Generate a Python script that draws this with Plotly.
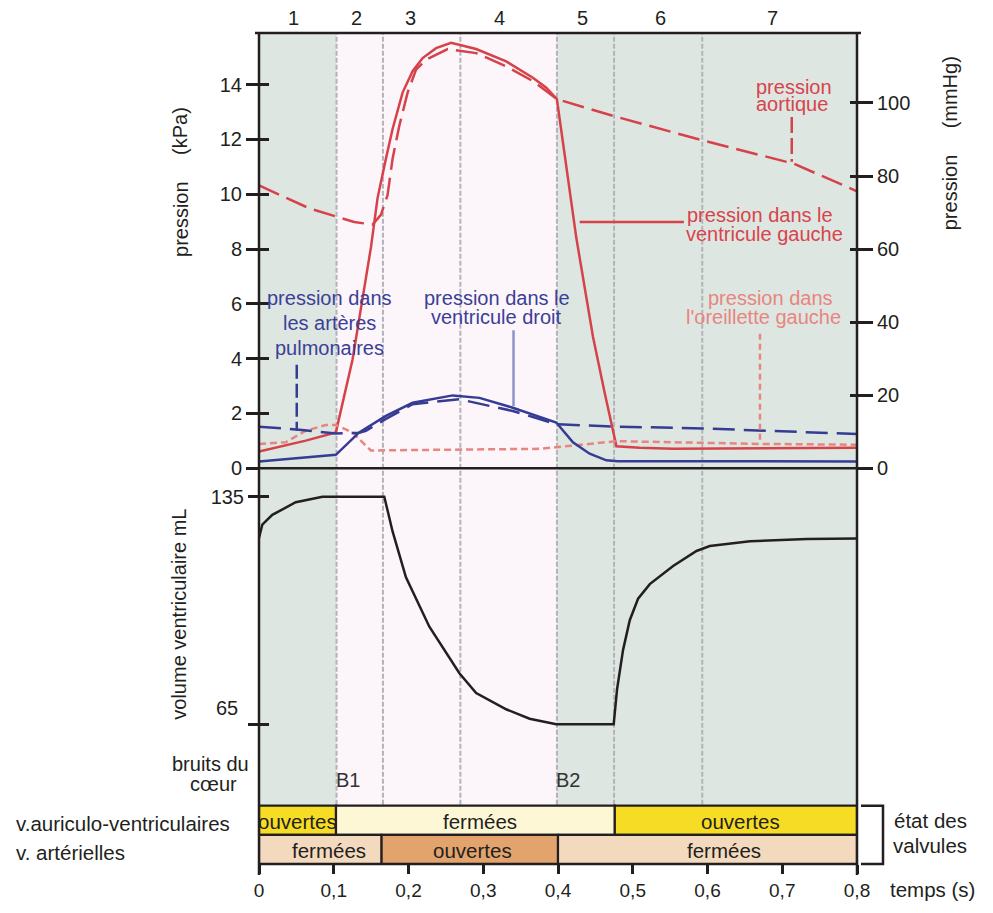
import plotly.graph_objects as go

# ---------------- data ----------------
# time in s, pressures in kPa
t_lv = [0.000, 0.0626, 0.1028, 0.1251, 0.1497, 0.1586, 0.1698, 0.1787, 0.1921, 0.2055, 0.2189,
        0.2369, 0.2570, 0.2905, 0.3307, 0.3664, 0.3843, 0.3985, 0.4245, 0.4468, 0.4625, 0.4782,
        0.5094, 0.554, 0.8]
p_lv = [0.61, 1.01, 1.31, 3.96, 8.05, 9.86, 11.30, 12.38, 13.71, 14.49, 14.97,
        15.33, 15.53, 15.30, 14.85, 14.25, 13.89, 13.47, 8.41, 4.80, 2.75, 0.80,
        0.75, 0.71, 0.75]

t_ao = [0.0, 0.067, 0.1028, 0.1273, 0.1519, 0.1631, 0.172, 0.1787, 0.1877, 0.1988, 0.2101,
        0.2235, 0.2524, 0.2905, 0.3307, 0.3664, 0.3985, 0.4736, 0.5942, 0.7149, 0.8]
p_ao = [10.32, 9.49, 9.19, 8.99, 8.89, 9.25, 9.97, 11.30, 12.50, 13.71, 14.55,
        14.91, 15.30, 15.15, 14.67, 14.13, 13.47, 12.86, 11.96, 11.12, 10.11]

t_rv = [0.0, 0.1028, 0.134, 0.1698, 0.2055, 0.2591, 0.2949, 0.3395, 0.3977, 0.42, 0.4424,
        0.4647, 0.48, 0.8]
p_rv = [0.25, 0.49, 1.31, 1.91, 2.39, 2.66, 2.57, 2.21, 1.67, 0.95, 0.53,
        0.29, 0.26, 0.25]

t_pa = [0.0, 0.0536, 0.1028, 0.134, 0.143, 0.1698, 0.2055, 0.2681, 0.3395, 0.3977, 0.4647,
        0.5988, 0.8]
p_pa = [1.52, 1.41, 1.27, 1.30, 1.37, 1.80, 2.34, 2.52, 2.09, 1.61, 1.53,
        1.45, 1.25]

t_la = [0.0, 0.0358, 0.0626, 0.0894, 0.1028, 0.125, 0.1497, 0.2681, 0.3395, 0.3753, 0.42,
        0.4782, 0.6702, 0.8]
p_la = [0.89, 0.95, 1.37, 1.58, 1.58, 1.31, 0.65, 0.68, 0.71, 0.71, 0.83,
        0.99, 0.89, 0.86]

# ventricular volume (mL)
t_vol = [0, 0.0044, 0.0178, 0.0492, 0.0849, 0.1028, 0.1676, 0.1787, 0.1966, 0.2279, 0.2681,
         0.2905, 0.3307, 0.362, 0.3977, 0.4745, 0.479, 0.487, 0.496, 0.5071, 0.5228,
         0.554, 0.5853, 0.603, 0.6568, 0.733, 0.8]
vol = [122.3, 126.4, 129.4, 133.3, 135.0, 135, 135, 124.3, 110.2, 95.0, 80.7,
       74.6, 69.6, 66.7, 65, 65, 75.7, 87.8, 97.0, 103.6, 108.1,
       113.7, 118.3, 119.8, 121.3, 122.0, 122.1]

# cardiac cycle phases
phase_edges = [0, 0.1037, 0.1658, 0.2694, 0.3986, 0.475, 0.593, 0.8]
phase_names = ["1", "2", "3", "4", "5", "6", "7"]
phase_label_t = [0.0456, 0.1307, 0.2024, 0.3217, 0.4323, 0.5375, 0.687]
phase_kind = ["d", "s", "s", "s", "d", "d", "d"]

heart_sounds = ["B1", "B2"]
heart_sound_t = [0.1037, 0.3986]

# valve states
av_edges = [0, 0.103, 0.476, 0.8]
av_states = ["ouvertes", "fermées", "ouvertes"]
av_label_t = [0.0509, 0.2962, 0.6441]
art_edges = [0, 0.164, 0.40, 0.8]
art_states = ["fermées", "ouvertes", "fermées"]
art_label_t = [0.0938, 0.2855, 0.6227]

kpa_ticks = [0, 2, 4, 6, 8, 10, 12, 14]
mmhg_ticks = [0, 20, 40, 60, 80, 100]
vol_ticks = [65, 135]
vol_ticklabels = ["", "135"]      # "65" is drawn slightly above its tick, as in the reference
time_ticks = [0, 0.1, 0.2, 0.3, 0.4, 0.5, 0.6, 0.7, 0.8]
time_ticklabels = ["0", "0,1", "0,2", "0,3", "0,4", "0,5", "0,6", "0,7", "0,8"]

# ---------------- style ----------------
W, H = 993, 913
PX_L, PX_R, PX_T, PX_B = 259, 857, 33, 873   # plot area in pixels
L, R, T, B = PX_L, W - PX_R, PX_T, H - PX_B
PW = W - L - R
INK = "#231f20"
RED = "#d6424a"
RED_TXT = "#d9434b"
SALMON = "#e8857f"
BLUE = "#363b94"
BLUE_TXT = "#3b3f97"
LBLUE = "#8c93c9"
BG_D = "#dde6e1"
BG_S = "#fcf5f9"
SANS = "Liberation Sans, Arial, sans-serif"
KPA_TO_MMHG = 7.50062


def fx(x):
    return (x - PX_L) / PW


def fy(y):
    return (PX_B - y) / (PX_B - PX_T)


top_dom = [fy(473), 1.0]
vol_dom = [fy(813), fy(473)]
kpa_range = [0, (473 - 33) / 27.7]
mmhg_range = [0, kpa_range[1] * KPA_TO_MMHG]
vol_range = [65 - (813 - 731.7) / 3.2857, 135 + (501.7 - 473) / 3.2857]

fig = go.Figure()

fig.add_trace(go.Scatter(x=t_ao, y=p_ao, mode="lines", xaxis="x", yaxis="y",
                         line=dict(color=RED, width=2.5, dash="22px,8px")))
fig.add_trace(go.Scatter(x=t_lv, y=p_lv, mode="lines", xaxis="x", yaxis="y",
                         line=dict(color=RED, width=2.5)))
fig.add_trace(go.Scatter(x=t_la, y=p_la, mode="lines", xaxis="x", yaxis="y",
                         line=dict(color=SALMON, width=2.5, dash="7px,4px")))
fig.add_trace(go.Scatter(x=t_pa, y=p_pa, mode="lines", xaxis="x", yaxis="y",
                         line=dict(color=BLUE, width=2.5, dash="22px,9px")))
fig.add_trace(go.Scatter(x=t_rv, y=p_rv, mode="lines", xaxis="x", yaxis="y",
                         line=dict(color=BLUE, width=2.5)))
fig.add_trace(go.Scatter(x=t_vol, y=vol, mode="lines", xaxis="x", yaxis="y2",
                         line=dict(color=INK, width=2.5)))
# dummy traces so overlay axes exist
for xa, ya in [("x2", "y"), ("x", "y3"), ("x", "y4"), ("x", "y5"), ("x", "y6")]:
    fig.add_trace(go.Scatter(x=[None], y=[None], xaxis=xa, yaxis=ya, mode="lines"))

fig.update_traces(showlegend=False, hoverinfo="skip")

shapes = []
# phase backgrounds and dividers
for i in range(len(phase_names)):
    shapes.append(dict(type="rect", xref="x", yref="paper", x0=phase_edges[i], x1=phase_edges[i + 1],
                       y0=fy(813), y1=fy(33), fillcolor=BG_D if phase_kind[i] == "d" else BG_S,
                       line=dict(width=0), layer="below"))
for e in phase_edges[1:-1]:
    shapes.append(dict(type="line", xref="x", yref="paper", x0=e, x1=e, y0=fy(813), y1=fy(33),
                       line=dict(color="#b4b3ba", width=2, dash="5px,2px"), layer="below"))

# valve bars
av_fill = {"ouvertes": "#f6dc24", "fermées": "#fdf7d6"}
art_fill = {"ouvertes": "#e2a36c", "fermées": "#f3d9bd"}
for i, s in enumerate(av_states):
    shapes.append(dict(type="rect", xref="x", yref="paper", x0=av_edges[i], x1=av_edges[i + 1],
                       y0=fy(843.5), y1=fy(814), fillcolor=av_fill[s], line=dict(color=INK, width=2.2),
                       layer="above"))
for i, s in enumerate(art_states):
    shapes.append(dict(type="rect", xref="x", yref="paper", x0=art_edges[i], x1=art_edges[i + 1],
                       y0=fy(873), y1=fy(843.5), fillcolor=art_fill[s], line=dict(color=INK, width=2.2),
                       layer="above"))

# frame lines
frame = dict(color=INK, width=2.5)
shapes += [
    dict(type="line", xref="paper", yref="paper", x0=fx(255), x1=fx(861), y0=fy(33), y1=fy(33), line=frame),
    dict(type="line", xref="paper", yref="paper", x0=fx(249), x1=fx(872), y0=fy(473), y1=fy(473), line=frame),
    dict(type="line", xref="paper", yref="paper", x0=0, x1=0, y0=fy(884), y1=fy(33), line=frame),
    dict(type="line", xref="paper", yref="paper", x0=1, x1=1, y0=fy(884), y1=fy(33), line=frame),
    dict(type="line", xref="paper", yref="paper", x0=0, x1=1, y0=0, y1=0, line=frame),
    dict(type="path", xref="paper", yref="paper",
         path=f"M {fx(861)} {fy(814)} L {fx(883)} {fy(814)} L {fx(883)} {fy(873)} L {fx(861)} {fy(873)}",
         line=dict(color=INK, width=2.5)),
]

# leader lines (data coordinates)
shapes += [
    dict(type="line", xref="x", yref="y", x0=0.7127, x1=0.7127, y0=12.82, y1=11.19,
         line=dict(color=RED, width=2.5, dash="16px,5px")),
    dict(type="line", xref="x", yref="y", x0=0.429, x1=0.5684, y0=8.99, y1=8.99,
         line=dict(color=RED, width=2.5)),
    dict(type="line", xref="x", yref="y", x0=0.6702, x1=0.6702, y0=4.91, y1=0.90,
         line=dict(color=SALMON, width=2.5, dash="6px,4px")),
    dict(type="line", xref="x", yref="y", x0=0.0505, x1=0.0505, y0=3.78, y1=1.37,
         line=dict(color=BLUE, width=2.5, dash="14px,5px")),
    dict(type="line", xref="x", yref="y", x0=0.3405, x1=0.3405, y0=5.04, y1=2.27,
         line=dict(color=LBLUE, width=2.5)),
]


def txt(s, x, y, color=INK, size=20, xanchor="center", angle=0, xref="paper"):
    return dict(text=s, x=x if xref != "paper" else fx(x), y=fy(y), xref=xref, yref="paper",
                showarrow=False, xanchor=xanchor, yanchor="middle", textangle=angle,
                font=dict(color=color, size=size, family=SANS))


VS = 20.5  # valve-section text size
ann = []
for name, t in zip(phase_names, phase_label_t):
    ann.append(txt(name, t, 18, xref="x"))
for name, t in zip(heart_sounds, heart_sound_t):
    ann.append(txt(name, t - 0.004, 788, color="#333333", xanchor="left", xref="x"))
for s, t in zip(av_states, av_label_t):
    ann.append(txt(s, t, 830, size=VS, xref="x"))
for s, t in zip(art_states, art_label_t):
    ann.append(txt(s, t, 859, size=VS, xref="x"))

ann += [
    txt("pression", 794, 88, RED_TXT), txt("aortique", 792, 105, RED_TXT),
    txt("pression dans le", 685, 217, RED_TXT, xanchor="left"),
    txt("ventricule gauche", 684, 236, RED_TXT, xanchor="left"),
    txt("pression dans", 770, 301, SALMON), txt("l'oreillette gauche", 763, 320, SALMON),
    txt("pression dans", 329, 301, BLUE_TXT), txt("les artères", 329, 326, BLUE_TXT),
    txt("pulmonaires", 329, 351, BLUE_TXT),
    txt("pression dans le", 497, 301, BLUE_TXT), txt("ventricule droit", 496, 320, BLUE_TXT),
    txt("pression", 181, 221, angle=-90), txt("(kPa)", 180, 132, angle=-90),
    txt("(mmHg)", 950, 93, angle=-90), txt("pression", 950, 194, angle=-90),
    txt("volume ventriculaire mL", 179, 621, angle=-90),
    txt("65", 240, 715, xanchor="right"),
    txt("bruits du", 210, 772), txt("cœur", 213, 792),
    txt("v.auriculo-ventriculaires", 14, 832, size=VS, xanchor="left"),
    txt("v. artérielles", 14, 861, size=VS, xanchor="left"),
    txt("temps (s)", 888, 899, size=VS, xanchor="left"),
    txt("état des", 930, 829, size=VS),
    txt("valvules", 930, 854, size=VS),
]

tickfont = dict(family=SANS, size=20, color=INK)
common_y = dict(showgrid=False, zeroline=False, showline=False, tickwidth=2.5, tickcolor=INK,
                fixedrange=True)

fig.update_layout(
    width=W, height=H, autosize=False,
    margin=dict(l=L, r=R, t=T, b=B, pad=0),
    paper_bgcolor="white", plot_bgcolor="white",
    font=dict(family=SANS, size=20, color=INK),
    showlegend=False,
    shapes=shapes, annotations=ann,
    xaxis=dict(domain=[0, 1], range=[0, 0.8], anchor="free", position=0, showgrid=False, zeroline=False,
               showline=False, tickvals=time_ticks, ticktext=time_ticklabels, ticks="outside", ticklen=9,
               tickwidth=2.5, tickcolor=INK, tickfont=dict(family=SANS, size=19, color=INK)),
    xaxis2=dict(overlaying="x", range=[0, 0.8], anchor="free", position=0, showgrid=False, zeroline=False,
                showline=False, tickvals=time_ticks, ticks="inside", ticklen=10, tickwidth=2.5,
                tickcolor=INK, showticklabels=False),
    yaxis=dict(domain=top_dom, range=kpa_range, anchor="x", tickvals=kpa_ticks, ticks="outside",
               ticklen=12, tickfont=tickfont, **common_y),
    yaxis4=dict(overlaying="y", range=kpa_range, anchor="x", tickvals=kpa_ticks, ticks="inside",
                ticklen=10, showticklabels=False, **common_y),
    yaxis3=dict(overlaying="y", side="right", range=mmhg_range, anchor="x", tickvals=mmhg_ticks,
                ticks="outside", ticklen=15, tickfont=tickfont, **common_y),
    yaxis5=dict(overlaying="y", side="right", range=mmhg_range, anchor="x", tickvals=mmhg_ticks,
                ticks="inside", ticklen=7, showticklabels=False, **common_y),
    yaxis2=dict(domain=vol_dom, range=vol_range, anchor="x", tickvals=vol_ticks, ticktext=vol_ticklabels,
                ticks="outside", ticklen=10, tickfont=tickfont, **common_y),
    yaxis6=dict(overlaying="y2", range=vol_range, anchor="x", tickvals=vol_ticks, ticks="inside",
                ticklen=10, showticklabels=False, **common_y),
)

page_css = ("document.body.style.margin='0';document.body.style.padding='0';"
            "document.documentElement.style.overflow='hidden';")
fig.write_html("out.html", config={"displayModeBar": False}, post_script=page_css)
